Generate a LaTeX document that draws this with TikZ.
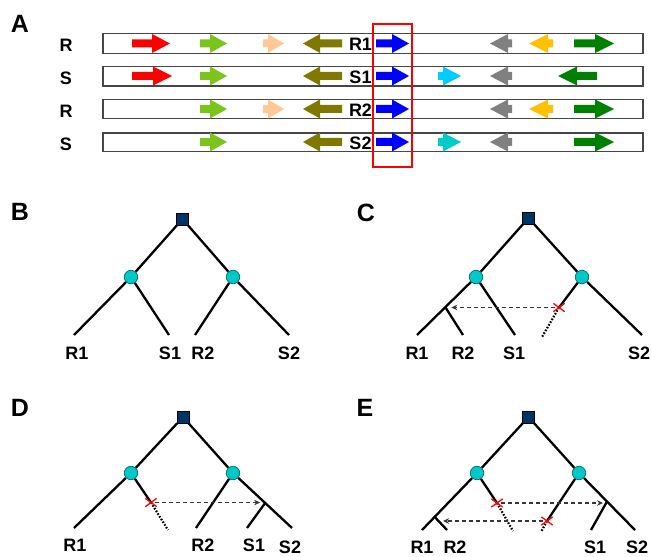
\documentclass[tikz,border=0pt]{standalone}
\usepackage{fontspec}
\setmainfont{Liberation Sans}
\usetikzlibrary{arrows.meta,shapes.misc,calc}
\definecolor{cRed}{RGB}{255,0,0}
\definecolor{cLgreen}{RGB}{122,196,28}
\definecolor{cPeach}{RGB}{255,200,150}
\definecolor{cOlive}{RGB}{128,120,0}
\definecolor{cBlue}{RGB}{0,0,255}
\definecolor{cSky}{RGB}{0,204,255}
\definecolor{cTeal}{RGB}{0,204,204}
\definecolor{cGray}{RGB}{128,128,128}
\definecolor{cGold}{RGB}{255,192,0}
\definecolor{cDgreen}{RGB}{0,128,0}
\definecolor{cNavy}{RGB}{0,51,102}
\definecolor{cCirc}{RGB}{0,200,200}
\definecolor{cCircB}{RGB}{0,110,110}
\definecolor{cBar}{RGB}{70,70,70}
\definecolor{cDash}{RGB}{55,55,55}
% gene arrow: color, y, tail, head base, tip
\newcommand\gene[5]{\fill[#1] (#3,#2-4) -- (#4,#2-4) -- (#4,#2-9.5) -- (#5,#2) -- (#4,#2+9.5) -- (#4,#2+4) -- (#3,#2+4) -- cycle;}
\begin{document}
\begin{tikzpicture}[x=1pt,y=-1pt,
  panel/.style={font=\fontsize{25}{25}\selectfont\bfseries, inner sep=0pt},
  rowlab/.style={font=\fontsize{18}{18}\selectfont\bfseries, inner sep=0pt},
  leaf/.style={font=\fontsize{18}{18}\selectfont\bfseries, inner sep=0pt},
  bar/.style={draw=cBar, line width=1.5pt, fill=white},
  rootsq/.style={rectangle, draw=black, line width=0.6pt, fill=cNavy, minimum size=12pt, inner sep=0pt},
  inner/.style={circle, draw=cCircB, line width=0.7pt, fill=cCirc, minimum size=13.5pt, inner sep=0pt},
  branch/.style={line width=2.3pt, black},
  dotline/.style={line width=2.2pt, black, dash pattern=on 1.6pt off 1.6pt},
  hgt/.style={draw=cDash, line width=1.5pt, dash pattern=on 4pt off 3pt, -{Stealth[length=6pt,width=5.5pt]}},
  cut/.style={cross out, draw=red, line width=1.3pt, minimum width=10pt, minimum height=7pt, inner sep=0pt}
]
\useasboundingbox (0,0) rectangle (652,556);

% ---------------- Panel A ----------------
\node[panel] (lA) at (20,24) {A};
\node[rowlab] (r1) at (66,45) {R};
\node[rowlab] (r2) at (66,78) {S};
\node[rowlab] (r3) at (66,111) {R};
\node[rowlab] (r4) at (66,144) {S};

\draw[bar] (103,33.5) rectangle (643,53.5);
\draw[bar] (103,66.5) rectangle (643,86);
\draw[bar] (103,99.5) rectangle (643,118.5);
\draw[bar] (103,133) rectangle (643,151.5);

% row 1
\gene{cRed}{43.5}{132}{152}{170}
\gene{cLgreen}{43.5}{200}{210}{227}
\gene{cPeach}{43.5}{263}{268}{284}
\gene{cOlive}{43.5}{342}{320}{303}
\gene{cBlue}{43.5}{376}{392}{409}
\gene{cGray}{43.5}{512}{508}{490}
\gene{cGold}{43.5}{553}{548}{529}
\gene{cDgreen}{43.5}{574}{595}{614}
% row 2
\gene{cRed}{76}{132}{153}{172}
\gene{cLgreen}{76}{200}{210}{227}
\gene{cOlive}{76}{342}{320}{303}
\gene{cBlue}{76}{376}{392}{409}
\gene{cSky}{76}{438}{443}{461}
\gene{cGray}{76}{512}{508}{490}
\gene{cDgreen}{76}{597}{577}{558}
% row 3
\gene{cLgreen}{109}{200}{210}{227}
\gene{cPeach}{109}{263}{268}{284}
\gene{cOlive}{109}{342}{320}{303}
\gene{cBlue}{109}{376}{392}{409}
\gene{cGray}{109}{512}{508}{490}
\gene{cGold}{109}{553}{548}{529}
\gene{cDgreen}{109}{574}{595}{614}
% row 4
\gene{cLgreen}{142}{200}{210}{227}
\gene{cOlive}{142}{342}{320}{303}
\gene{cBlue}{142}{376}{392}{409}
\gene{cTeal}{142}{438}{443}{461}
\gene{cGray}{142}{512}{508}{490}
\gene{cDgreen}{142}{574}{595}{614}

\node[leaf] (g1) at (360.5,44) {R1};
\node[leaf] (g2) at (360.5,77) {S1};
\node[leaf] (g3) at (360.5,110) {R2};
\node[leaf] (g4) at (360.5,143) {S2};

\draw[red, line width=1.2pt] (373,24) rectangle (412,167);

% ---------------- Panel B ----------------
\node[panel] (lB) at (20,212) {B};
\node[rootsq] (Bt) at (182.5,219) {};
\node[inner] (Bl) at (131,277) {};
\node[inner] (Br) at (233,277) {};
\coordinate (BR1) at (74,335);
\coordinate (BS1) at (169,335);
\coordinate (BR2) at (195,335);
\coordinate (BS2) at (289,335);
\draw[branch] (Bt) -- (Bl);
\draw[branch] (Bt) -- (Br);
\draw[branch] (Bl) -- (BR1);
\draw[branch] (Bl) -- (BS1);
\draw[branch] (Br) -- (BR2);
\draw[branch] (Br) -- (BS2);
\node[leaf] (BR1l) at (77,353) {R1};
\node[leaf] (BS1l) at (170,353) {S1};
\node[leaf] (BR2l) at (203,353) {R2};
\node[leaf] (BS2l) at (289,353) {S2};

% ---------------- Panel C ----------------
\node[panel] (lC) at (366,213) {C};
\node[rootsq] (Ct) at (528.5,218) {};
\node[inner] (Cl) at (476,277) {};
\node[inner] (Cr) at (582,277) {};
\coordinate (CR1) at (417,335);
\coordinate (CR2) at (463,335);
\coordinate (CS1) at (515,335);
\coordinate (CS2) at (642,335);
\coordinate (Cb) at ($(Cl)!0.52!(CR1)$);
\coordinate (Cx) at (559,307.5);
\coordinate (Cd) at (542,337);
\draw[branch] (Ct) -- (Cl);
\draw[branch] (Ct) -- (Cr);
\draw[branch] (Cl) -- (CR1);
\draw[branch] (Cb) -- (CR2);
\draw[branch] (Cl) -- (CS1);
\draw[branch] (Cr) -- (CS2);
\draw[branch] (Cr) -- (Cx);
\draw[dotline] (Cx) -- (Cd);
\draw[hgt, shorten <=4pt, shorten >=6pt] (Cx) -- (Cx -| Cb);
\node[cut] (Cxm) at (Cx) {};
\node[leaf] (CR1l) at (417,353) {R1};
\node[leaf] (CR2l) at (463,353) {R2};
\node[leaf] (CS1l) at (514,353) {S1};
\node[leaf] (CS2l) at (639,353) {S2};

% ---------------- Panel D ----------------
\node[panel] (lD) at (20,408) {D};
\node[rootsq] (Dt) at (183,417) {};
\node[inner] (Dl) at (131,473) {};
\node[inner] (Dr) at (233,473) {};
\coordinate (DR1) at (74,528);
\coordinate (DR2) at (196,528);
\coordinate (DS1) at (247,528);
\coordinate (DS2) at (292,528);
\coordinate (Db) at ($(Dr)!0.545!(DS2)$);
\coordinate (Dx) at (151,502.5);
\coordinate (Dd) at (168,530);
\draw[branch] (Dt) -- (Dl);
\draw[branch] (Dt) -- (Dr);
\draw[branch] (Dl) -- (DR1);
\draw[branch] (Dl) -- (Dx);
\draw[dotline] (Dx) -- (Dd);
\draw[branch] (Dr) -- (DR2);
\draw[branch] (Dr) -- (DS2);
\draw[branch] (Db) -- (DS1);
\draw[hgt, shorten <=4pt, shorten >=5pt] (Dx) -- (Dx -| Db);
\node[cut] (Dxm) at (Dx) {};
\node[leaf] (DR1l) at (75,545.5) {R1};
\node[leaf] (DR2l) at (203,545.5) {R2};
\node[leaf] (DS1l) at (254,545.5) {S1};
\node[leaf] (DS2l) at (290,547) {S2};

% ---------------- Panel E ----------------
\node[panel] (lE) at (365,408) {E};
\node[rootsq] (Et) at (528.5,417) {};
\node[inner] (El) at (477,473) {};
\node[inner] (Er) at (579,473) {};
\coordinate (ER1) at (422,530);
\coordinate (ER2) at (447,530);
\coordinate (ES1) at (591,530);
\coordinate (ES2) at (635,530);
\coordinate (Eb1) at ($(El)!0.77!(ER1)$);
\coordinate (Eb2) at ($(Er)!0.5!(ES2)$);
\coordinate (Ex1) at (497,503);
\coordinate (Ed1) at (513,531);
\coordinate (Ex2) at (547,521);
\coordinate (Ed2) at (541,532);
\coordinate (Etip2) at (443,521);
\draw[branch] (Et) -- (El);
\draw[branch] (Et) -- (Er);
\draw[branch] (El) -- (ER1);
\draw[branch] (Eb1) -- (ER2);
\draw[branch] (El) -- (Ex1);
\draw[dotline] (Ex1) -- (Ed1);
\draw[branch] (Er) -- (Ex2);
\draw[dotline] (Ex2) -- (Ed2);
\draw[branch] (Er) -- (ES2);
\draw[branch] (Eb2) -- (ES1);
\draw[hgt, shorten <=4pt, shorten >=4pt] (Ex1) -- (Ex1 -| Eb2);
\draw[hgt, shorten <=4pt] (Ex2) -- (Etip2);
\node[cut] (Ex1m) at (Ex1) {};
\node[cut] (Ex2m) at (Ex2) {};
\node[leaf] (ER1l) at (422,547) {R1};
\node[leaf] (ER2l) at (455,547) {R2};
\node[leaf] (ES1l) at (595,547) {S1};
\node[leaf] (ES2l) at (637,547) {S2};
\end{tikzpicture}
\end{document}
